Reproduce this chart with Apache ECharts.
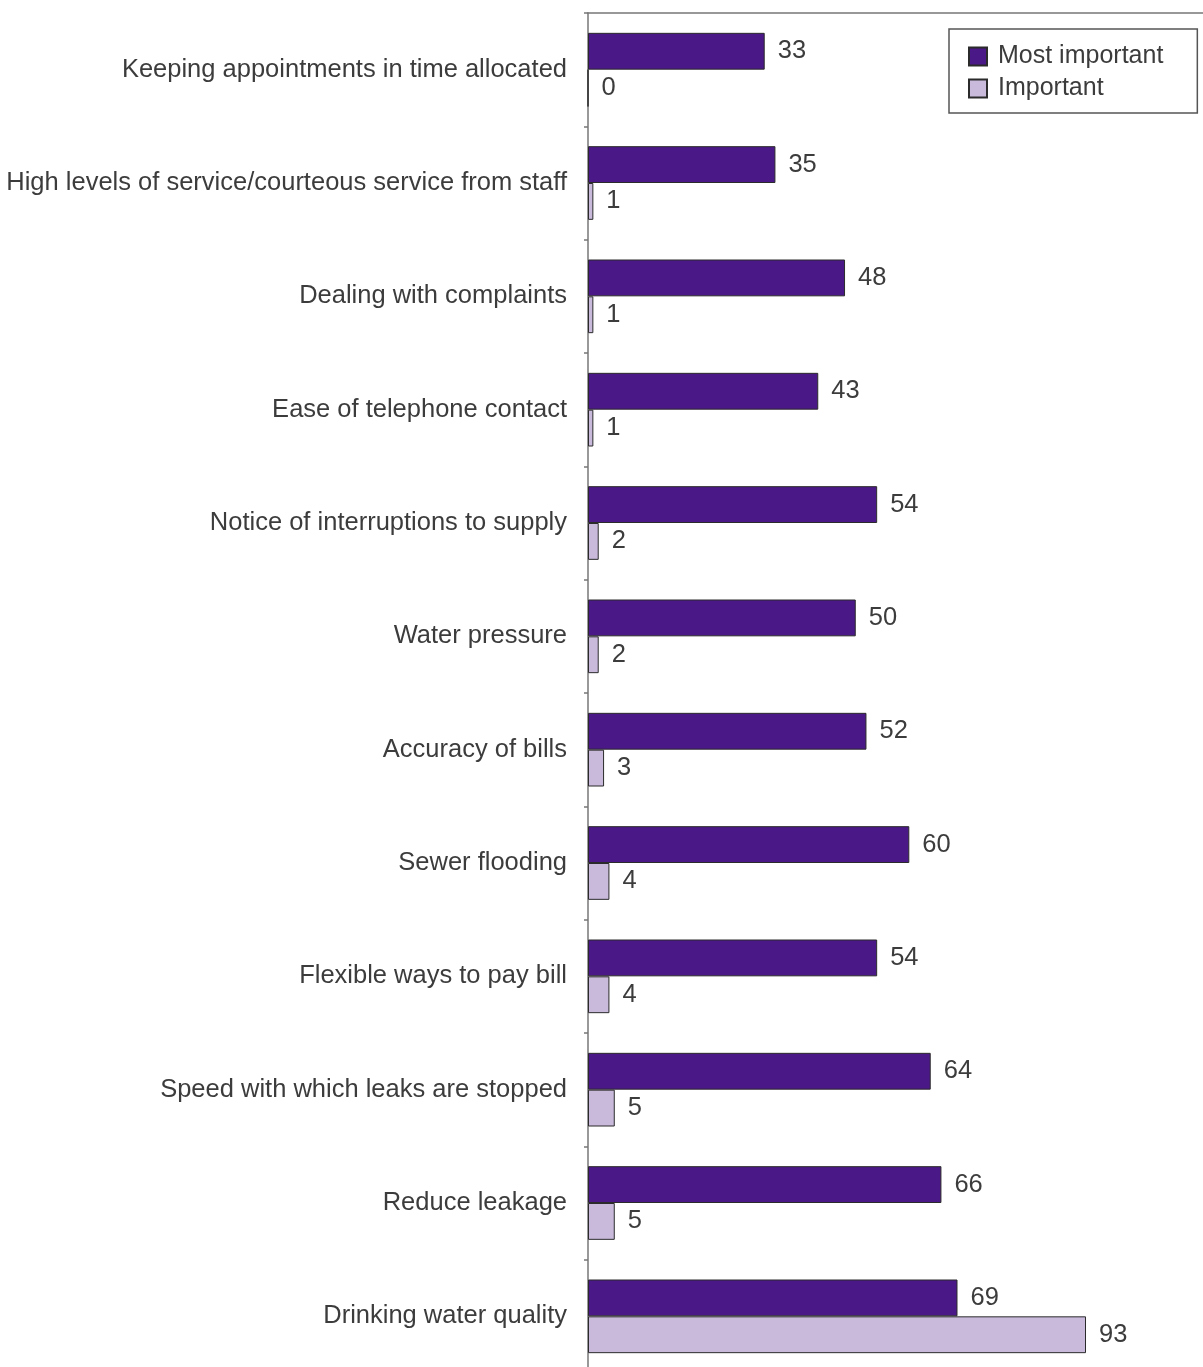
<!DOCTYPE html>
<html>
<head>
<meta charset="utf-8">
<script src="https://cdn.jsdelivr.net/npm/echarts@6/dist/echarts.min.js"></script>
<style>
  html, body { margin: 0; padding: 0; background: #ffffff; }
  #chart { width: 1203px; height: 1367px; }
</style>
</head>
<body>
<div id="chart"></div>
<script>
// Service aspects, listed top to bottom
const categories = [
  'Keeping appointments in time allocated',
  'High levels of service/courteous service from staff',
  'Dealing with complaints',
  'Ease of telephone contact',
  'Notice of interruptions to supply',
  'Water pressure',
  'Accuracy of bills',
  'Sewer flooding',
  'Flexible ways to pay bill',
  'Speed with which leaks are stopped',
  'Reduce leakage',
  'Drinking water quality'
];
const mostImportant = [33, 35, 48, 43, 54, 50, 52, 60, 54, 64, 66, 69];
const important = [0, 1, 1, 1, 2, 2, 3, 4, 4, 5, 5, 93];
const seriesNames = ['Most important', 'Important'];

const FONT = '"Liberation Sans", Arial, sans-serif';
const TEXT = '#3c3c3c';
const SIZE = 25.5;

const chart = echarts.init(document.getElementById('chart'), null, { renderer: 'canvas' });

const valueLabel = {
  show: true,
  position: 'right',
  distance: 13,
  fontFamily: FONT,
  fontSize: SIZE,
  color: TEXT
};

chart.setOption({
  backgroundColor: '#ffffff',
  animation: false,
  legend: {
    orient: 'vertical',
    left: 949,
    top: 29,
    padding: [15, 34, 12, 19],
    itemGap: 7,
    itemWidth: 18,
    itemHeight: 18,
    borderColor: '#555555',
    borderWidth: 1.5,
    icon: 'rect',
    textStyle: {
      fontFamily: FONT,
      fontSize: 25,
      color: TEXT,
      padding: [0, 0, 0, 6]
    },
    data: seriesNames
  },
  grid: {
    left: 588,
    top: 13,
    width: 642.6,
    height: 1360,
    containLabel: false,
    outerBoundsMode: 'none'
  },
  xAxis: {
    type: 'value',
    position: 'top',
    min: 0,
    max: 120,
    axisLine: { show: true, lineStyle: { color: '#777777', width: 1.5 } },
    axisTick: { show: false },
    axisLabel: { show: false },
    splitLine: { show: false }
  },
  yAxis: {
    type: 'category',
    inverse: true,
    data: categories,
    axisLine: { show: true, lineStyle: { color: '#777777', width: 1.5 } },
    axisTick: { show: true, length: 4, alignWithLabel: false, lineStyle: { color: '#777777', width: 1.5 } },
    axisLabel: {
      margin: 21,
      fontFamily: FONT,
      fontSize: SIZE,
      color: TEXT
    }
  },
  series: [
    {
      name: seriesNames[0],
      type: 'bar',
      data: mostImportant,
      barGap: '0%',
      barCategoryGap: '35%',
      itemStyle: { color: '#4b1887', borderColor: '#2b2b2b', borderWidth: 1 },
      label: valueLabel
    },
    {
      name: seriesNames[1],
      type: 'bar',
      data: important,
      barGap: '0%',
      barCategoryGap: '35%',
      itemStyle: { color: '#c9badc', borderColor: '#2b2b2b', borderWidth: 1 },
      label: valueLabel
    }
  ]
});
</script>
</body>
</html>
